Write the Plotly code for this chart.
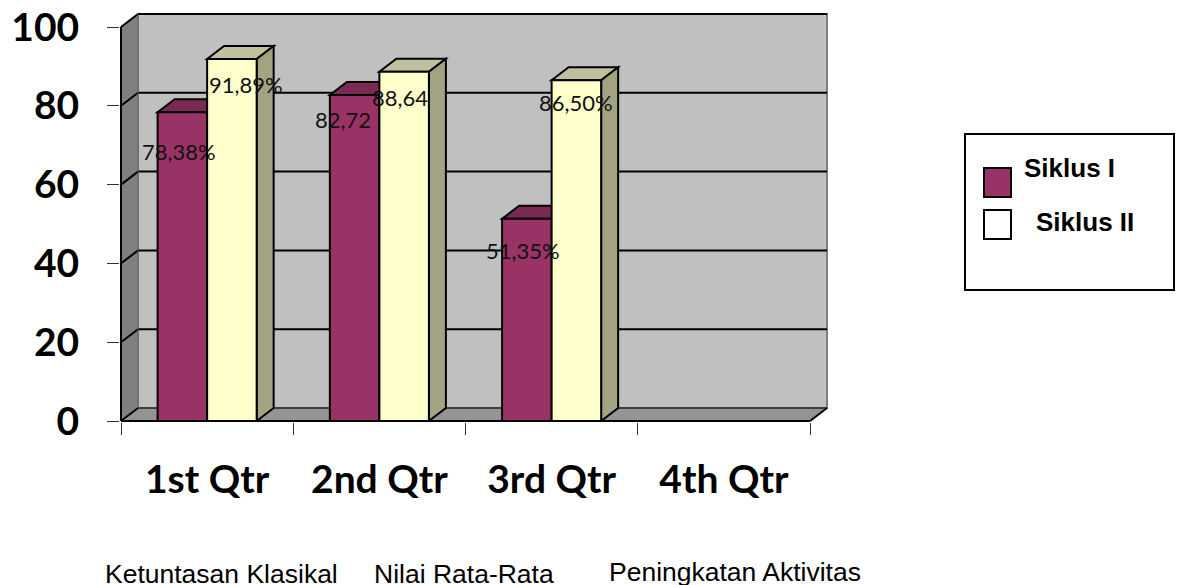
import plotly.graph_objects as go

categories = ["1st Qtr", "2nd Qtr", "3rd Qtr", "4th Qtr"]
siklus_1 = [78.38, 82.72, 51.35]
siklus_2 = [91.89, 88.64, 86.50]
labels_1 = ["78,38%", "82,72", "51,35%"]
labels_2 = ["91,89%", "88,64", "86,50%"]
y_ticks = [0, 20, 40, 60, 80, 100]
bottom_labels = ["Ketuntasan Klasikal", "Nilai Rata-Rata", "Peningkatan Aktivitas"]

W, H = 1179, 585
L, R, T, B = 120, 828, 13, 422       # plot box in px
CAT_PX = 172.25
UNIT_PX = 3.94
DX = 17 / CAT_PX                     # depth of the 3-D effect in data units
DY = 13 / UNIT_PX
GAP = 0.425
BW = (1 - GAP) / 2

MAROON, MAROON_TOP = "#993366", "#7A2952"
CREAM, CREAM_TOP, CREAM_SIDE = "#FFFFCC", "#C0C09E", "#A3A382"
FONT = "Lato"
ARIAL = "Liberation Sans"


def poly(points, fill, line="black", width=2):
    path = "M " + " L ".join(f"{x},{y}" for x, y in points) + " Z"
    return dict(type="path", path=path, xref="x", yref="y", layer="below",
                fillcolor=fill, line=dict(color=line, width=width))


def seg(x0, y0, x1, y1, color="black", width=2):
    return dict(type="line", x0=x0, y0=y0, x1=x1, y1=y1, xref="x", yref="y",
                layer="below", line=dict(color=color, width=width))


def box(x0, y0, x1, y1, fill, line="black", width=2):
    return dict(type="rect", xref="paper", yref="paper",
                x0=(x0 - L) / (R - L), x1=(x1 - L) / (R - L),
                y0=(B - y1) / (B - T), y1=(B - y0) / (B - T),
                fillcolor=fill, line=dict(color=line, width=width))


def text(px, py, s, size, font=ARIAL, bold=False):
    return dict(xref="paper", yref="paper", x=(px - L) / (R - L), y=(B - py) / (B - T),
                text=f"<b>{s}</b>" if bold else s, showarrow=False, xanchor="center",
                yanchor="middle", font=dict(family=font, size=size, color="black"))


x0, x1 = -0.5, 3.5
top = y_ticks[-1]
shapes = [
    poly([(x0 + DX, 0 + DY), (x1 + DX, 0 + DY), (x1 + DX, top + DY), (x0 + DX, top + DY)],
         "#C0C0C0", "#808080", 2),
    poly([(x0, 0), (x0 + DX, DY), (x0 + DX, top + DY), (x0, top)], "#808080", "#808080", 1),
    poly([(x0, 0), (x1, 0), (x1 + DX, DY), (x0 + DX, DY)], "#949494", "#949494", 1),
]
for v in y_ticks[1:]:
    shapes.append(seg(x0, v, x0 + DX, v + DY))
    shapes.append(seg(x0 + DX, v + DY, x1 + DX, v + DY))
shapes.append(seg(x0 + DX, DY, x1 + DX, DY, "#404040"))
shapes.append(seg(x1, 0, x1 + DX, DY))
shapes.append(seg(x0, 0, x0 + DX, DY))
shapes.append(seg(x0 + DX, DY, x0 + DX, top + DY, "#606060", 1))
shapes.append(seg(x0, 0, x0, top))
shapes.append(seg(x0, 0, x1, 0))

for i, (a, b) in enumerate(zip(siklus_1, siklus_2)):
    l, m, r = i - BW, i, i + BW
    shapes.append(poly([(l, a), (m, a), (m + DX, a + DY), (l + DX, a + DY)], MAROON_TOP))
    shapes.append(poly([(m, b), (r, b), (r + DX, b + DY), (m + DX, b + DY)], CREAM_TOP))
    shapes.append(poly([(r, 0), (r + DX, DY), (r + DX, b + DY), (r, b)], CREAM_SIDE))

# legend box
shapes += [
    box(965, 134, 1174, 290, "white"),
    box(984, 168, 1011, 197, MAROON),
    box(984, 210, 1011, 239, "white"),
]

# hand-placed value labels: shifts in px from the top-centre of each bar
shift_1 = [(-3, -39), (-12, -24), (-4, -32)]
shift_2 = [(14, -26), (-4, -26), (0, -22)]
annotations = []
for i, (a, b) in enumerate(zip(siklus_1, siklus_2)):
    annotations.append(dict(x=i - BW / 2, y=a, text=labels_1[i], showarrow=False,
                            xshift=shift_1[i][0], yshift=shift_1[i][1],
                            font=dict(family=FONT, size=22, color="#111111")))
    annotations.append(dict(x=i + BW / 2, y=b, text=labels_2[i], showarrow=False,
                            xshift=shift_2[i][0], yshift=shift_2[i][1],
                            font=dict(family=FONT, size=22, color="#111111")))
annotations += [
    text(1069, 168, "Siklus I", 26, bold=True),
    text(1084.5, 222, "Siklus II", 26, bold=True),
    text(221, 573.5, bottom_labels[0], 26.5),
    text(464, 573.5, bottom_labels[1], 26.5),
    text(735, 572, bottom_labels[2], 26.5),
]

fig = go.Figure()
xs = list(range(len(siklus_1)))
fig.add_bar(x=xs, y=siklus_1, name="Siklus I",
            marker=dict(color=MAROON, line=dict(color="black", width=2)))
fig.add_bar(x=xs, y=siklus_2, name="Siklus II",
            marker=dict(color=CREAM, line=dict(color="black", width=2)))

fig.update_layout(
    width=W, height=H, margin=dict(l=L, r=W - R, t=T, b=H - B, pad=0),
    barmode="group", bargap=GAP, bargroupgap=0, showlegend=False,
    paper_bgcolor="white", plot_bgcolor="rgba(0,0,0,0)",
    shapes=shapes, annotations=annotations,
    xaxis=dict(range=[x0 - 1 / CAT_PX, x1 + DX + 1 / CAT_PX], automargin=False,
               tickmode="array", tickvals=list(range(len(categories))), ticktext=categories,
               ticks="", showgrid=False, zeroline=False, showline=False,
               ticklabelstandoff=31, ticklabeloverflow="allow",
               tickfont=dict(family=FONT, size=39, color="black", weight="bold"),
               minor=dict(tickmode="array", tickvals=[x0, 0.5, 1.5, 2.5, x1],
                          ticks="outside", ticklen=12, tickwidth=1, tickcolor="#333333",
                          showgrid=False)),
    yaxis=dict(range=[-1 / UNIT_PX, top + DY + 1 / UNIT_PX], automargin=False,
               tickmode="array", tickvals=y_ticks, ticks="outside", ticklen=12,
               tickwidth=1, tickcolor="#333333", showgrid=False, zeroline=False,
               showline=False, ticklabelstandoff=20, ticklabeloverflow="allow",
               tickfont=dict(family=FONT, size=39, color="black", weight="bold")),
)
fig.write_html("out.html", config=dict(displayModeBar=False), post_script=(
    "document.body.style.margin='0';"
    "document.documentElement.style.overflow='hidden';"
))
